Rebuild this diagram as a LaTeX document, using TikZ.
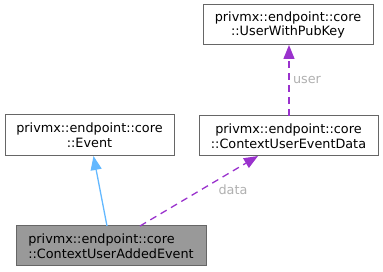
\documentclass[tikz,border=0pt]{standalone}
\usepackage{fontspec}
\setmainfont{DejaVu Sans}
\usetikzlibrary{arrows.meta}
\definecolor{boxborder}{HTML}{666666}
\definecolor{boxfill}{HTML}{999999}
\definecolor{inhblue}{HTML}{63B8FF}
\definecolor{usepurple}{HTML}{9A32CD}
\definecolor{lblgrey}{HTML}{B0B0B0}
\tikzset{
  cls/.style={draw=boxborder, line width=1pt, fill=white, inner sep=0pt,
    font=\fontsize{12.8}{14.8}\selectfont, text=black},
  inh/.style={draw=inhblue, line width=1.3pt, -{Triangle[length=14pt,width=11pt]}},
  usage/.style={draw=usepurple, line width=1.3pt, dash pattern=on 7pt off 5pt,
    -{Triangle[length=14pt,width=11pt]}},
  lbl/.style={text=lblgrey, font=\fontsize{12.8}{14.8}\selectfont, inner sep=0pt}
}
\begin{document}
\begin{tikzpicture}[x=1pt,y=-1pt]
\useasboundingbox (0,0) rectangle (383,272);
\node[cls, minimum width=169pt, minimum height=41pt, align=center] (event) at (89.5,135.5)
  {privmx::endpoint::core\\::Event};
\node[cls, fill=boxfill, minimum width=190pt, minimum height=40pt, align=left] (added) at (111,246)
  {privmx::endpoint::core\\::ContextUserAddedEvent};
\node[cls, minimum width=170pt, minimum height=40pt, align=center] (pubkey) at (288,25)
  {privmx::endpoint::core\\::UserWithPubKey};
\node[cls, minimum width=179pt, minimum height=40pt, align=center] (evdata) at (288.5,136)
  {privmx::endpoint::core\\::ContextUserEventData};
\coordinate (a1) at (107,226);
\coordinate (a2) at (93.5,156);
\draw[inh] (a1) -- (a2);
\coordinate (d1) at (140,226);
\coordinate (d2) at (258,156);
\draw[usage] (d1) -- (d2);
\coordinate (u1) at (289,116);
\coordinate (u2) at (289,45);
\draw[usage] (u1) -- (u2);
\node[lbl] (ldata) at (233,190) {data};
\node[lbl] (luser) at (307,80) {user};
\end{tikzpicture}
\end{document}
